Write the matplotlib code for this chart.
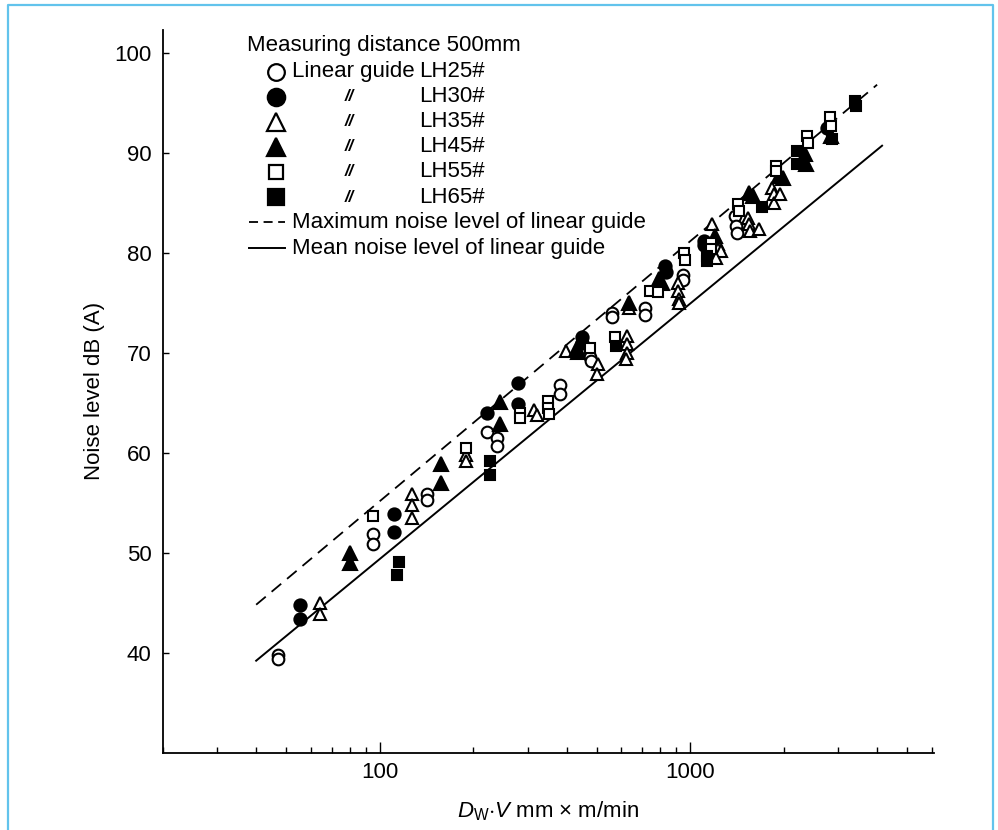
import matplotlib
matplotlib.use('Agg')
import matplotlib.pyplot as plt
from matplotlib.lines import Line2D
from matplotlib.ticker import LogLocator, NullFormatter, FixedLocator, FixedFormatter

plt.rcParams['font.family'] = ['Liberation Sans', 'DejaVu Sans']
plt.rcParams['mathtext.fontset'] = 'custom'
plt.rcParams['mathtext.rm'] = 'Liberation Sans'
plt.rcParams['mathtext.it'] = 'Liberation Sans:italic'
plt.rcParams['lines.scale_dashes'] = False

lh25_x = [47, 47, 95, 95, 142, 142, 222, 238, 238, 381, 381, 476, 480, 558, 558,
          713, 713, 948, 948, 1390, 1400, 1410]
lh25_y = [39.8, 39.4, 51.9, 50.9, 55.9, 55.3, 62.1, 61.5, 60.7, 66.8, 65.9, 69.6, 69.2, 74.0, 73.6,
          74.5, 73.8, 77.8, 77.3, 83.7, 82.7, 82.0]

lh30_x = [55.5, 55.5, 111.5, 111.5, 222, 279, 279, 447, 447, 830, 835, 1110, 1110, 2750]
lh30_y = [44.8, 43.4, 53.9, 52.1, 64.0, 67.0, 64.9, 71.6, 71.0, 78.7, 78.1, 81.2, 80.8, 92.5]

lh35_x = [64.4, 64.4, 127, 127, 127, 189, 189, 313, 320, 398, 503, 500, 625, 625, 625, 620,
          637, 912, 915, 918, 918, 1175, 1225, 1230, 1260, 1210, 1530, 1545, 1560, 1660,
          1840, 1860, 1860, 1945]
lh35_y = [45.0, 43.9, 55.9, 54.8, 53.5, 59.8, 59.2, 64.3, 63.8, 70.2, 68.9, 67.9, 71.7, 70.9, 70.0, 69.4,
          74.5, 77.0, 76.2, 75.4, 75.0, 82.9, 80.9, 80.4, 80.2, 79.5, 83.5, 82.9, 82.2, 82.4,
          86.5, 85.9, 85.0, 85.9]

lh45_x = [80.4, 80.4, 158, 158, 244, 244, 431, 435, 637, 795, 810, 1200, 1550, 1590,
          1930, 1990, 2340, 2360, 2850]
lh45_y = [50.0, 49.0, 58.9, 57.0, 65.1, 62.9, 70.5, 70.1, 75.0, 77.4, 77.0, 81.7, 86.0, 85.7,
          87.7, 87.5, 89.9, 88.9, 91.7]

lh55_x = [95, 189, 284, 284, 349, 349, 352, 476, 573, 743, 785, 955, 960, 1165, 1165,
          1430, 1440, 1890, 1890, 2380, 2400, 2830, 2850]
lh55_y = [53.7, 60.5, 64.0, 63.5, 65.2, 64.5, 63.9, 70.5, 71.6, 76.2, 76.1, 80.0, 79.3, 81.0, 80.4,
          84.9, 84.2, 88.7, 88.2, 91.7, 91.0, 93.6, 92.7]

lh65_x = [115, 114, 227, 227, 575, 1130, 1130, 1700, 2210, 2210, 2860, 3390, 3420]
lh65_y = [49.1, 47.8, 59.2, 57.8, 70.7, 79.7, 79.2, 84.6, 90.2, 88.9, 91.4, 95.2, 94.7]

# reference lines
max_line_x = [40, 4000]
max_line_y = [44.8, 96.8]
mean_line_x = [40, 4150]
mean_line_y = [39.2, 90.7]

series_labels = ['LH25#', 'LH30#', 'LH35#', 'LH45#', 'LH55#', 'LH65#']

W, H = 998, 830
fig = plt.figure(figsize=(W / 100, H / 100), dpi=100)
ax = fig.add_axes([162.7 / W, 1 - 752.7 / H, (934 - 162.7) / W, (752.7 - 30) / H])

ax.plot(max_line_x, max_line_y, color='black', lw=1.3, dashes=(9, 5.5))
ax.plot(mean_line_x, mean_line_y, color='black', lw=1.4)

# marker styles: (marker, filled, size)
styles = [('o', False, 8.4), ('o', True, 8.8), ('^', False, 9.0),
          ('^', True, 9.4), ('s', False, 7.0), ('s', True, 7.4)]
data = [(lh25_x, lh25_y), (lh30_x, lh30_y), (lh35_x, lh35_y),
        (lh45_x, lh45_y), (lh55_x, lh55_y), (lh65_x, lh65_y)]

for (xs, ys), (mk, filled, ms) in zip(data, styles):
    ax.plot(xs, ys, linestyle='none', marker=mk, ms=ms,
            mfc='black' if filled else 'white', mec='black', mew=1.5, zorder=3)

ax.set_xscale('log')
ax.set_xlim(20, 6100)
ax.set_ylim(30, 102.27)

ax.xaxis.set_major_locator(FixedLocator([100, 1000]))
ax.xaxis.set_major_formatter(FixedFormatter(['100', '1000']))
ax.xaxis.set_minor_locator(LogLocator(base=10, subs=range(2, 10)))
ax.xaxis.set_minor_formatter(NullFormatter())
ax.set_yticks(range(40, 101, 10))

ax.tick_params(axis='x', which='major', direction='in', length=8, width=1.0, labelsize=16, pad=7)
ax.tick_params(axis='x', which='minor', direction='in', length=4.5, width=1.0)
ax.tick_params(axis='y', which='major', direction='in', length=4.5, width=1.0, labelsize=16, pad=8)
ax.tick_params(axis='y', which='minor', left=False)

for side in ['top', 'right']:
    ax.spines[side].set_visible(False)
for side in ['left', 'bottom']:
    ax.spines[side].set_linewidth(1.3)

ax.set_ylabel('Noise level dB (A)', fontsize=16, va='center')
ax.yaxis.set_label_coords(-0.088, 0.5)
ax.set_xlabel(r'$D_{\mathrm{W}}$$\cdot$$V$ mm $\times$ m/min', fontsize=16, va='center')
ax.xaxis.set_label_coords(0.5, -0.0816)


def fx(px):
    return px / W


def fy(py):
    return 1 - py / H


# hand-made legend block
fig.text(fx(246.7), fy(46), 'Measuring distance 500mm', fontsize=16, va='center')
row_y = [71.7, 96.7, 121.7, 146.7, 171.7, 197.3]
leg_ms = [12, 12.5, 13, 13.5, 10.5, 11]
for i, ((mk, filled, ms), lab) in enumerate(zip(styles, series_labels)):
    fig.add_artist(Line2D([fx(276)], [fy(row_y[i])], marker=mk, ms=leg_ms[i],
                          mfc='black' if filled else 'white', mec='black', mew=1.6,
                          linestyle='none', transform=fig.transFigure))
    if i == 0:
        fig.text(fx(291.7), fy(row_y[i]), 'Linear guide', fontsize=16, va='center')
    else:
        fig.text(fx(349.3), fy(row_y[i]), '//', fontsize=12, va='center', ha='center',
                 fontweight='bold', style='italic')
    fig.text(fx(419.3), fy(row_y[i]), lab, fontsize=16, va='center')

fig.add_artist(Line2D([fx(249), fx(285)], [fy(222.3), fy(222.3)], color='black', lw=1.3,
                      dashes=(6.5, 4), transform=fig.transFigure))
fig.text(fx(291.7), fy(222.3), 'Maximum noise level of linear guide', fontsize=16, va='center')
fig.add_artist(Line2D([fx(249), fx(285)], [fy(248.3), fy(248.3)], color='black', lw=1.4,
                      transform=fig.transFigure))
fig.text(fx(291.7), fy(248.3), 'Mean noise level of linear guide', fontsize=16, va='center')

# light blue frame on left, top and right
frame_col = '#62c3ec'
fig.add_artist(Line2D([fx(8), fx(8), fx(993), fx(993)], [0, fy(5), fy(5), 0],
                      color=frame_col, lw=1.6, transform=fig.transFigure))

fig.savefig('out.png', dpi=100)
